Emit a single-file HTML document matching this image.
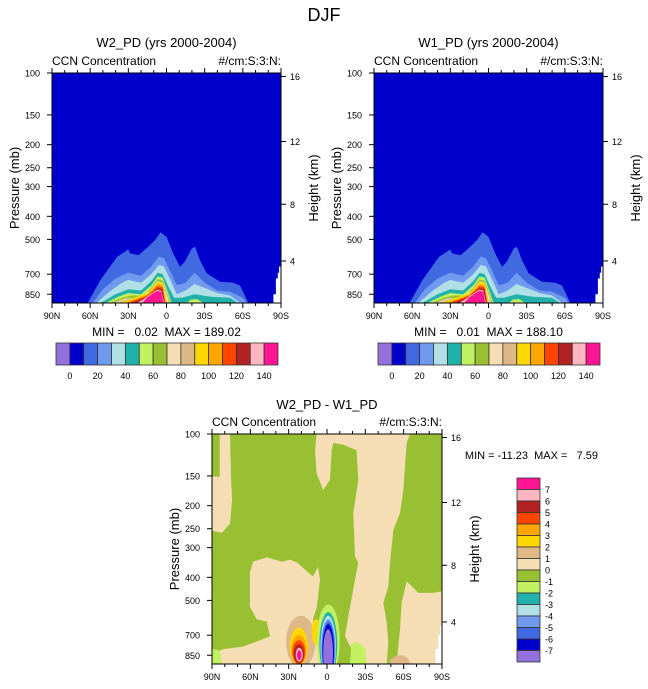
<!DOCTYPE html>
<html><head><meta charset="utf-8">
<style>
html,body{margin:0;padding:0;background:#fff;}
svg{display:block;font-family:"Liberation Sans",Arial,sans-serif;}
text{white-space:pre;}
</style></head>
<body>
<svg id="fig" width="648" height="689" viewBox="0 0 648 689" xmlns="http://www.w3.org/2000/svg">
<text x="324" y="21" font-size="18" text-anchor="middle">DJF</text>
</svg>
<script>
// ---------- DATA ----------
const latTicks = [90, 60, 30, 0, -30, -60, -90];
const latTickLabels = ["90N", "60N", "30N", "0", "30S", "60S", "90S"];
const presTicks = [100, 150, 200, 250, 300, 400, 500, 700, 850];
const heightTickPres = [103.5, 194, 356, 616];
const heightTickLabels = ["16", "12", "8", "4"];
const topColors = ["#9370DB","#0000CD","#4169E1","#6F9AEE","#B0E0E6","#20B2AA","#C1F060","#99C033","#F5DEB3","#DEB887","#FFD700","#FFA500","#FF4500","#B22222","#FFB6C1","#FF1493"];
const topLabels = ["0","20","40","60","80","100","120","140"];
const diffColors = ["#FF1493","#FFB6C1","#B22222","#FF4500","#FFA500","#FFD700","#DEB887","#F5DEB3","#99C033","#C1F060","#20B2AA","#B0E0E6","#6F9AEE","#4169E1","#0000CD","#9370DB"];
const diffLabels = ["7","6","5","4","3","2","1","0","-1","-2","-3","-4","-5","-6","-7"];

// top-panel contour levels: [lat, top pressure] outlines
const lev10 = [[62,925],[52,742],[39,593],[30,551],[28.7,572],[22,583],[15.6,544],[9,503],[4.6,467],[0,488],[-5.3,573],[-10.6,652],[-14.5,620],[-19.8,546],[-22.4,537],[-26.3,612],[-31.6,695],[-42,752],[-52.5,760],[-57.8,781],[-64.3,925]];
const lev20 = [[58,925],[50,810],[40,730],[30,690],[20,710],[12,650],[6,590],[2,600],[-3,680],[-8,780],[-15,760],[-22,690],[-30,760],[-40,820],[-50,830],[-60,880],[-63,925]];
const lev30 = [[55,925],[45,830],[35,760],[30,740],[20,760],[12,700],[6,640],[2,650],[-3,740],[-8,850],[-15,820],[-22,770],[-30,800],[-40,840],[-50,860],[-58,925]];
const lev40 = [[52,925],[40,850],[30,810],[20,820],[12,750],[7,690],[3,700],[-2,800],[-6,880],[-12,880],[-22,850],[-35,870],[-50,880],[-56,925]];
const lev50 = [[48,925],[38,870],[30,840],[20,850],[12,780],[7,715],[3,725],[-1,830],[-4,925]];
const lev50b = [[-16,925],[-19,895],[-24,890],[-29,925]];
const lev60 = [[45,925],[35,880],[28,860],[18,862],[12,800],[7,735],[3,745],[-1,860],[-3,925]];
const lev70 = [[42,925],[32,885],[22,880],[13,820],[7,750],[3,760],[-1,880],[-2,925]];
const lev80 = [[40,925],[30,888],[20,870],[12,830],[7,760],[3,772],[0,900],[-1,925]];
const lev90 = [[37,925],[28,890],[15,840],[10,790],[7,755],[3,765],[0,925]];
const lev100 = [[34,925],[25,895],[15,850],[10,800],[7,770],[3,780],[0.5,925]];
const lev110 = [[31,925],[25,900],[15,860],[10,815],[7,785],[3,795],[1,925]];
const lev120 = [[28,925],[22,900],[15,870],[10,830],[7,800],[3,810],[1.5,925]];
const lev130 = [[23,925],[18,890],[12,845],[7,812],[4,822],[2,925]];
const lev140 = [[19,925],[15,875],[10,840],[7,822],[4,832],[2.5,925]];
const missingTop = [[-90,650],[-88.5,650],[-88.5,690],[-87.5,690],[-87.5,730],[-86,730],[-86,850],[-84,850],[-84,925],[-90,925]];

// difference panel regions
const diffWheat1 = [[84,100],[75.9,100],[75.1,151],[74.3,189],[75.9,238],[82.2,260],[90,255],[90,151],[84,151]];
const diffWheat2 = [[60.3,382],[57.9,344],[47,330],[35.2,344],[29,337],[23.5,347],[17.2,371],[11,397],[7,361],[5.5,409],[7.8,531],[11,601],[5.5,925],[89,925],[86.3,827],[81.4,801],[65.7,782],[44.6,708],[47.2,613],[55,601],[60.3,531]];
const diffWheat3 = [[8.1,100],[9.4,117],[8.1,146],[2.9,172],[-2.3,156],[-3.7,117],[-4.9,109],[-12.8,111],[-23.2,117],[-24.5,156],[-20.6,215],[-21.9,327],[-24.5,348],[-21.9,409],[-16.7,584],[-14.1,707],[-18,779],[-28.4,885],[-28.4,925],[-46.7,925],[-48,752],[-46.7,621],[-44.1,512],[-48,436],[-49.3,348],[-51.9,253],[-57.1,215],[-59.7,172],[-62.4,109],[-65,100]];
const diffWheat4 = [[-62.4,416],[-66.3,436],[-71.5,465],[-83.2,465],[-90,458],[-90,925],[-54.5,925],[-57.1,661],[-58.4,512]];
const diffLightGreen = [[-18,925],[-19,760],[-24,750],[-30,800],[-31,925]];
const diffLightGreen2 = [[90,925],[90,800],[84,810],[82,925]];
const missingDiff = [[-90,640],[-88.5,640],[-88.5,700],[-87,700],[-87,800],[-85,800],[-85,925],[-90,925]];
// blobs: [latNorth, latSouth, pTop, pBottom]
const posBlobs = [[32,9,580,960],[29,15,650,940],[28,16,700,930],[27,17,735,925],[26,18,765,915],[24.5,19,790,905],[23.5,20,810,890]];
const posBlobColors = ["#DEB887","#FFD700","#FFA500","#FF4500","#B22222","#FFB6C1","#FF1493"];
const goldColumn = [12,5,600,770];
const negBlobs = [[8,-10,520,1050],[6,-8,560,1050],[5,-7,580,1050],[4.5,-6.5,600,1050],[4,-6,615,1050],[3.5,-5.5,630,1050],[3,-4.7,660,1050]];
const negBlobColors = ["#C1F060","#20B2AA","#B0E0E6","#6F9AEE","#4169E1","#0000CD","#9370DB"];
const sBlob = [-49,-65,850,1000];

// ---------- DRAWING ----------
const NS = "http://www.w3.org/2000/svg";
const svg = document.getElementById("fig");
function mk(tag, attrs, parent){
  const e = document.createElementNS(NS, tag);
  for (const k in attrs) e.setAttribute(k, attrs[k]);
  (parent||svg).appendChild(e); return e;
}
function makeAxes(x0,y0,w,h){
  return {
    x: lat => x0 + (90-lat)/180*w,
    y: p => y0 + Math.log(p/100)/Math.log(9.25)*h
  };
}
function poly(g, ax, pts, fill, name){
  const e = mk("polygon",{points: pts.map(q=>ax.x(q[0]).toFixed(1)+","+ax.y(q[1]).toFixed(1)).join(" "), fill: fill}, g);
  
  
}
function blob(g, ax, b, fill, name){
  const xa=ax.x(b[0]), xb=ax.x(b[1]), ya=ax.y(b[2]), yb=ax.y(b[3]);
  const e = mk("ellipse",{cx:(xa+xb)/2, cy:(ya+yb)/2, rx:Math.abs(xb-xa)/2, ry:Math.abs(yb-ya)/2, fill:fill}, g);
  
  
}
function txt(x,y,s,size,anchor,name,extra){
  const t = mk("text",Object.assign({x:x,y:y,"font-size":size,"text-anchor":anchor||"start"},extra||{}));
  t.textContent = s;
  
  
  return t;
}
let clipId = 0;
function frame(x0,y0,w,h,prefix){
  const ax = makeAxes(x0,y0,w,h);
  const id = "clip"+(clipId++);
  const cp = mk("clipPath",{id:id});
  mk("rect",{x:x0,y:y0,width:w,height:h},cp);
  const g = mk("g",{"clip-path":"url(#"+id+")"});
  
  
  return {ax:ax,g:g};
}
function axesDecor(ax,x0,y0,w,h,prefix){
  const ag = mk("g",{stroke:"#000","stroke-width":1,fill:"none"});
  
  
  mk("rect",{x:x0,y:y0,width:w,height:h},ag);
  for (let lat=90; lat>=-90; lat-=10){
    const major = lat%30===0;
    const x = ax.x(lat), L = major?5:3;
    mk("line",{x1:x,y1:y0+h,x2:x,y2:y0+h+L},ag);
    mk("line",{x1:x,y1:y0,x2:x,y2:y0-L},ag);
  }
  presTicks.forEach(p=>{ const y=ax.y(p); mk("line",{x1:x0,y1:y,x2:x0-5,y2:y},ag); });
  heightTickPres.forEach(p=>{ const y=ax.y(p); mk("line",{x1:x0+w,y1:y,x2:x0+w+5,y2:y},ag); });
  latTicks.forEach((lat,i)=> txt(ax.x(lat), y0+h+16, latTickLabels[i], 9, "middle", prefix+"-x-tick-label"));
  presTicks.forEach(p=> txt(x0-12, ax.y(p)+3.5, String(p), 9, "end", prefix+"-y-tick-label"));
  heightTickPres.forEach((p,i)=> txt(x0+w+9, ax.y(p)+3.5, heightTickLabels[i], 9, "start", prefix+"-height-tick-label"));
  txt(x0, y0-8, "CCN Concentration", 12, "start", prefix+"-variable-label");
  txt(x0+w, y0-8, "#/cm:S:3:N:", 12, "end", prefix+"-units-label");
  const cy = y0+h/2;
  txt(x0-33, cy, "Pressure (mb)", 13, "middle", prefix+"-y-axis-title", {transform:"rotate(-90 "+(x0-33)+" "+cy+")"});
  txt(x0+w+37, cy, "Height (km)", 13, "middle", prefix+"-right-axis-title", {transform:"rotate(-90 "+(x0+w+37)+" "+cy+")"});
}
const topLevels = [lev10,lev20,lev30,lev40,lev50,lev50b,lev60,lev70,lev80,lev90,lev100,lev110,lev120,lev130,lev140];
const topLevelColors = ["#4169E1","#6F9AEE","#B0E0E6","#20B2AA","#C1F060","#C1F060","#99C033","#F5DEB3","#DEB887","#FFD700","#FFA500","#FF4500","#B22222","#FFB6C1","#FF1493"];

function topPanel(x0, title, minmax, prefix){
  const y0=73, w=229, h=230;
  txt(x0+w/2, 47, title, 13, "middle", prefix+"-title");
  const f = frame(x0,y0,w,h,prefix);
  const bg = mk("rect",{x:x0,y:y0,width:w,height:h,fill:"#0000CD"},f.g);
  
  
  topLevels.forEach((lv,i)=> poly(f.g, f.ax, lv, topLevelColors[i], prefix+"-contour-level"));
  poly(f.g, f.ax, missingTop, "#FFFFFF", prefix+"-missing-data");
  axesDecor(f.ax,x0,y0,w,h,prefix);
  txt(x0+w/2, 336, minmax, 12, "middle", prefix+"-min-max");
  const cbx = x0+4, cbw = 222, cby = 343, cbh = 22, bw = cbw/topColors.length;
  const cg = mk("g",{});
  
  
  topColors.forEach((c,i)=>{
    const r = mk("rect",{x:cbx+i*bw,y:cby,width:bw,height:cbh,fill:c,stroke:"#333","stroke-width":0.8},cg);
    
    
  });
  topLabels.forEach((l,i)=> txt(cbx+(1+2*i)*bw, cby+cbh+14, l, 9, "middle", prefix+"-colorbar-label"));
}
topPanel(52, "W2_PD (yrs 2000-2004)", "MIN =   0.02  MAX = 189.02", "w2");
topPanel(374, "W1_PD (yrs 2000-2004)", "MIN =   0.01  MAX = 188.10", "w1");

(function(){
  const x0=212, y0=434, w=230, h=230, prefix="diff";
  txt(327, 409, "W2_PD - W1_PD", 13, "middle", "diff-title");
  const f = frame(x0,y0,w,h,prefix);
  const bg = mk("rect",{x:x0,y:y0,width:w,height:h,fill:"#99C033"},f.g);
  
  
  [diffWheat1,diffWheat2,diffWheat3,diffWheat4].forEach(p=>poly(f.g,f.ax,p,"#F5DEB3","diff-wheat-region"));
  poly(f.g,f.ax,diffLightGreen,"#C1F060","diff-lightgreen-region");
  poly(f.g,f.ax,diffLightGreen2,"#C1F060","diff-lightgreen-region");
  blob(f.g,f.ax,sBlob,"#DEB887","diff-south-blob");
  posBlobs.forEach((b,i)=>{
    blob(f.g,f.ax,b,posBlobColors[i],"diff-positive-blob");
    if(i===1) blob(f.g,f.ax,goldColumn,"#FFD700","diff-gold-column");
  });
  negBlobs.forEach((b,i)=>blob(f.g,f.ax,b,negBlobColors[i],"diff-negative-blob"));
  poly(f.g,f.ax,missingDiff,"#FFFFFF","diff-missing-data");
  axesDecor(f.ax,x0,y0,w,h,prefix);
  txt(598, 459, "MIN = -11.23  MAX =   7.59", 11, "end", "diff-min-max");
  const cx=517, cy=478, cw=23, bh=11.5;
  const cg = mk("g",{});
  
  
  diffColors.forEach((c,i)=>{
    const r = mk("rect",{x:cx,y:cy+i*bh,width:cw,height:bh,fill:c,stroke:"#333","stroke-width":0.8},cg);
    
    
  });
  diffLabels.forEach((l,i)=> txt(cx+cw+5, cy+(i+1)*bh+3.5, l, 9, "start", "diff-colorbar-label"));
})();
</script>
</body></html>
